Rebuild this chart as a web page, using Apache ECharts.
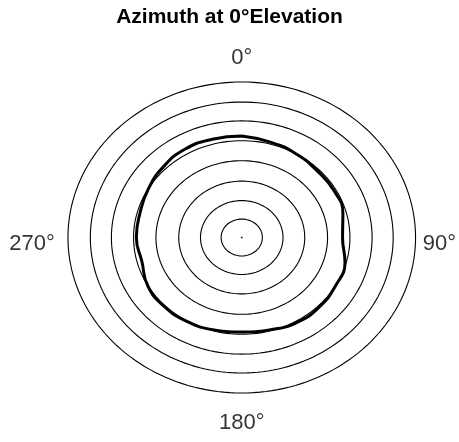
<!DOCTYPE html>
<html lang="en">
<head>
    <meta charset="utf-8" />
    <title>Azimuth at 0°Elevation</title>
    <script type="text/javascript" src="https://cdn.jsdelivr.net/npm/echarts@6/dist/echarts.min.js"></script>
    <style type="text/css">
        html, body { margin: 0; padding: 0; background: #fff; }
    </style>
</head>
<body>

    <div id="main" style="width:459px;height:442px;"></div>

    <script type="text/javascript">

        // grid rings (radius units)
        var ringRadii = [0.95, 1.9, 2.9, 3.95, 4.98, 6.0, 6.97, 8.0];

        // measured pattern, azimuth in degrees (0 = top, clockwise)
        var patternAngles = [0, 15, 30, 45, 60, 75, 90, 105, 120, 135, 150, 165,
                             180, 195, 210, 225, 240, 255, 270, 285, 300, 315, 330, 345];
        var patternRadii = [5.22, 5.08, 4.98, 4.88, 4.88, 4.82, 4.64, 4.92, 4.98, 5.05, 5.05, 4.92,
                            4.86, 4.92, 5.00, 5.03, 4.99, 4.76, 4.85, 4.85, 4.97, 5.12, 5.24, 5.23];

        // angle tick labels
        var tickAngles = [0, 90, 180, 270];
        var tickLabels = ['0°', '90°', '180°', '270°'];
        var tickRadii = [9.3, 9.1, 9.5, 9.65];

        var myChart = echarts.init(document.getElementById('main'));

        function toXY(deg, r) {
            var a = deg * Math.PI / 180;
            return [r * Math.sin(a), r * Math.cos(a)];
        }

        var series = [];

        var ringStep = 2;
        ringRadii.forEach(function (r) {
            var pts = [];
            for (var d = 0; d <= 360; d += ringStep) {
                pts.push(toXY(d, r));
            }
            series.push({
                type: 'line',
                data: pts,
                symbol: 'none',
                clip: false,
                silent: true,
                lineStyle: { color: '#000', width: 1.1 },
                z: 2
            });
        });

        var patternPts = [];
        for (var i = 0; i < patternAngles.length; i++) {
            patternPts.push(toXY(patternAngles[i], patternRadii[i]));
        }
        patternPts.push(patternPts[0]);

        series.push({
            type: 'line',
            data: patternPts,
            symbol: 'none',
            smooth: 0.5,
            clip: false,
            lineStyle: { color: '#000', width: 3 },
            z: 3
        });

        // center dot
        series.push({
            type: 'scatter',
            data: [[0, 0]],
            symbolSize: 2,
            itemStyle: { color: '#000' },
            z: 4
        });

        // angle labels (side labels sit a little below the centre line)
        var labelPts = [];
        for (var k = 0; k < tickAngles.length; k++) {
            var p = toXY(tickAngles[k], tickRadii[k]);
            var side = tickAngles[k] === 90 || tickAngles[k] === 270;
            labelPts.push({ value: p, name: tickLabels[k], label: { offset: [0, side ? 6 : 1] } });
        }
        series.push({
            type: 'scatter',
            data: labelPts,
            symbolSize: 1,
            clip: false,
            itemStyle: { color: 'rgba(0,0,0,0)' },
            label: {
                show: true,
                position: 'inside',
                formatter: '{b}',
                color: '#000',
                fontFamily: 'Liberation Sans, Arial, sans-serif',
                fontSize: 22
            },
            z: 5
        });

        var option = {
            animation: false,
            title: {
                text: 'Azimuth at 0°Elevation',
                left: 'center',
                top: 2,
                textStyle: {
                    fontFamily: 'Liberation Sans, Arial, sans-serif',
                    fontWeight: 'bold',
                    fontSize: 21,
                    color: '#000'
                }
            },
            grid: {
                left: 24.5,
                top: 43.1,
                width: 436,
                height: 388.8
            },
            xAxis: { type: 'value', min: -10, max: 10, show: false },
            yAxis: { type: 'value', min: -10, max: 10, show: false },
            series: series
        };
        myChart.setOption(option, true);
    </script>
</body>
</html>
